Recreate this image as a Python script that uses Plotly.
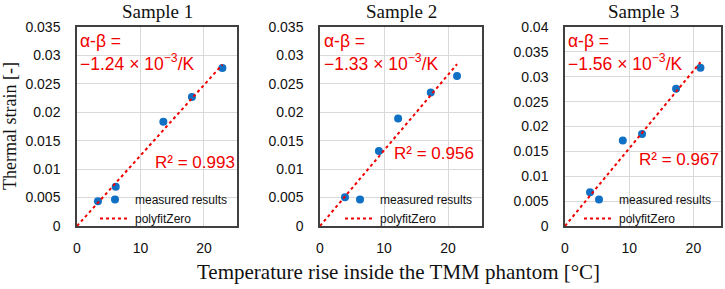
import plotly.graph_objects as go

# ---- data ----
samples = ["Sample 1", "Sample 2", "Sample 3"]
temp_rise = [
    [3.3, 6.1, 13.6, 18.1, 22.9],
    [3.9, 9.2, 12.2, 17.3, 21.4],
    [3.9, 9.0, 12.0, 17.3, 21.1],
]
strain = [
    [0.00434, 0.0069, 0.01835, 0.0227, 0.0278],
    [0.00505, 0.0132, 0.0189, 0.0235, 0.0264],
    [0.0068, 0.0172, 0.0185, 0.0276, 0.0318],
]
slopes = [1.24e-3, 1.33e-3, 1.56e-3]
r2 = [0.993, 0.956, 0.967]
y_max = [0.035, 0.035, 0.04]
x_max = [25.2, 25.3, 24.3]

W, H = 725, 289
def px(x): return x / W
def py(y): return 1 - y / H

x_dom = [(77, 237), (320, 482), (565, 721)]
y_dom = (27, 226)
alpha_pos = [(78, 29), (322, 29), (566, 29)]
r2_pos = [(153, 162), (392, 154), (637, 159)]

RED = "#f00000"
BLUE = "#1070c4"
SANS = "Liberation Sans"
SERIF = "Liberation Serif"

fig = go.Figure()
for i in range(3):
    ax = "" if i == 0 else str(i + 1)
    leg = "legend" if i == 0 else f"legend{i+1}"
    fig.add_trace(go.Scatter(
        x=temp_rise[i], y=strain[i], mode="markers", name="measured results",
        marker=dict(color=BLUE, size=8), xaxis="x" + ax, yaxis="y" + ax, legend=leg))
    xm = max(temp_rise[i])
    fig.add_trace(go.Scatter(
        x=[0, xm], y=[0, slopes[i] * xm], mode="lines", name="polyfitZero",
        line=dict(color=RED, width=2, dash="dot"), xaxis="x" + ax, yaxis="y" + ax, legend=leg))

axis_common = dict(showgrid=True, gridcolor="#d9d9d9", gridwidth=1, zeroline=False,
                   showline=True, mirror=True, linecolor="#404040", linewidth=1.5,
                   ticks="", automargin=False,
                   tickfont=dict(family=SANS, size=14, color="#111"))
layout = dict(width=W, height=H, margin=dict(l=0, r=0, t=0, b=0, autoexpand=False),
              plot_bgcolor="white", paper_bgcolor="white", showlegend=True)
for i in range(3):
    ax = "" if i == 0 else str(i + 1)
    layout["xaxis" + ax] = dict(axis_common, domain=[px(x_dom[i][0]), px(x_dom[i][1])],
                                range=[0, x_max[i]], dtick=10, anchor="y" + ax,
                                ticklabelstandoff=8)
    layout["yaxis" + ax] = dict(axis_common, domain=[py(y_dom[1]), py(y_dom[0])],
                                range=[0, y_max[i]], dtick=0.005, anchor="x" + ax,
                                ticklabelstandoff=12)
    leg = "legend" if i == 0 else f"legend{i+1}"
    layout[leg] = dict(x=px(x_dom[i][1] - 4), y=py(y_dom[1] + 7), xanchor="right", yanchor="bottom",
                       bgcolor="rgba(0,0,0,0)", font=dict(family=SANS, size=12, color="#111"),
                       itemwidth=30, tracegroupgap=0)
fig.update_layout(**layout)

for i in range(3):
    xc = (x_dom[i][0] + x_dom[i][1]) / 2
    fig.add_annotation(x=px(xc), y=py(12), xref="paper", yref="paper", text=samples[i],
                       xanchor="center", yanchor="middle",
                       showarrow=False, font=dict(family=SERIF, size=19, color="#111"))
    s = slopes[i] * 1e3
    fig.add_annotation(x=px(alpha_pos[i][0]), y=py(alpha_pos[i][1]), xref="paper", yref="paper",
                       xanchor="left", yanchor="top", align="left",
                       text=f"α-β =<br>−{s:.2f} × 10<sup>−3</sup>/K",
                       showarrow=False, font=dict(family=SANS, size=17.5, color=RED))
    fig.add_annotation(x=px(r2_pos[i][0]), y=py(r2_pos[i][1]), xref="paper", yref="paper",
                       xanchor="left", yanchor="middle",
                       text=f"R² = {r2[i]:.3f}", showarrow=False,
                       font=dict(family=SANS, size=17, color=RED))

fig.add_annotation(x=px(10), y=py(126), xref="paper", yref="paper", text="Thermal strain [-]",
                   xanchor="center", yanchor="middle",
                   textangle=-90, showarrow=False, font=dict(family=SERIF, size=18, color="#111"))
fig.add_annotation(x=px(399), y=py(272), xref="paper", yref="paper",
                   text="Temperature rise inside the TMM phantom [°C]",
                   xanchor="center", yanchor="middle",
                   showarrow=False, font=dict(family=SERIF, size=21, color="#111"))

fig.write_html("out.html", config={"displayModeBar": False},
               post_script="document.body.style.margin='0';document.body.style.padding='0';")
